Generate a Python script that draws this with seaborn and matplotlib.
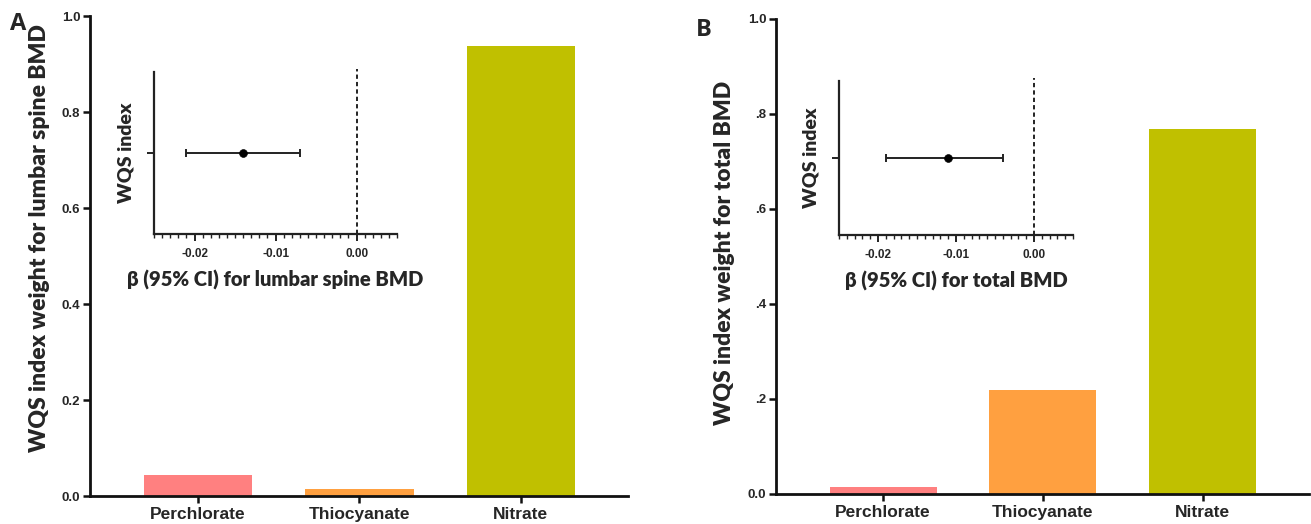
import matplotlib
matplotlib.use("Agg")
import matplotlib.pyplot as plt
import seaborn as sns
import pandas as pd
from matplotlib.ticker import MultipleLocator

# ---- data ----
categories = ["Perchlorate", "Thiocyanate", "Nitrate"]
weights_lumbar = [0.044, 0.015, 0.938]
weights_total = [0.015, 0.219, 0.768]
bar_colors = ["#FF8080", "#FFA040", "#C0C000"]

beta_lumbar = [-0.014]
ci_low_lumbar = [-0.021]
ci_high_lumbar = [-0.007]

beta_total = [-0.011]
ci_low_total = [-0.019]
ci_high_total = [-0.004]

yticks_main = [0.0, 0.2, 0.4, 0.6, 0.8, 1.0]
yticklabels_A = ["0.0", "0.2", "0.4", "0.6", "0.8", "1.0"]
yticklabels_B = ["0.0", ".2", ".4", ".6", ".8", "1.0"]
inset_xticks = [-0.02, -0.01, 0.00]
inset_xticklabels = ["-0.02", "-0.01", "0.00"]

sns.set_style("ticks")
TICKFONT = ["Liberation Sans", "DejaVu Sans"]
LABELFONT = ["Lato", "DejaVu Sans"]

fig = plt.figure(figsize=(13.11, 5.24), dpi=100)


def main_panel(rect, weights, ylabel, yticklabels, letter, letter_xy, ylabel_xy):
    ax = fig.add_axes(rect)
    df = pd.DataFrame({"cat": categories, "w": weights})
    sns.barplot(data=df, x="cat", y="w", hue="cat", palette=bar_colors,
                width=0.67, legend=False, ax=ax, saturation=1, linewidth=0)
    ax.set_xlim(-0.67, 2.665)
    ax.set_ylim(0, 1.0)
    ax.set_yticks(yticks_main)
    ax.set_yticklabels(yticklabels, family=TICKFONT, fontweight="bold", fontsize=9.5)
    ax.set_xticks(range(len(categories)))
    ax.set_xticklabels(categories, family=TICKFONT, fontweight="bold", fontsize=12.5)
    ax.set_xlabel("")
    ax.set_ylabel(ylabel, family=LABELFONT, fontweight="heavy", fontsize=16.5)
    ax.yaxis.set_label_coords(*ylabel_xy)
    for s in ["top", "right"]:
        ax.spines[s].set_visible(False)
    for s in ["left", "bottom"]:
        ax.spines[s].set_linewidth(2.0)
        ax.spines[s].set_color("#111111")
    ax.tick_params(axis="both", width=1.8, length=5, color="#111111", pad=2)
    ax.tick_params(axis="x", pad=3)
    fig.text(letter_xy[0], letter_xy[1], letter, family=["Open Sans", "DejaVu Sans"],
             fontweight="bold", fontsize=17, ha="center", va="center")
    return ax


def inset_panel(rect, beta, lo, hi, xlabel):
    ax = fig.add_axes(rect)
    ypos = [0]
    xerr = [[b - l for b, l in zip(beta, lo)], [h - b for b, h in zip(beta, hi)]]
    ax.errorbar(beta, ypos, xerr=xerr, fmt="none", ecolor="#222222",
                elinewidth=1.4, capsize=3, capthick=1.4)
    sns.scatterplot(x=beta, y=ypos, color="black", s=32, ax=ax, zorder=5,
                    edgecolor="black")
    ax.axvline(0, color="#222222", lw=1.4, ls=(0, (2.2, 1.6)), ymax=1.02, clip_on=False)
    ax.set_xlim(-0.025, 0.005)
    ax.set_ylim(-1, 1)
    ax.set_xticks(inset_xticks)
    ax.set_xticklabels(inset_xticklabels, family=TICKFONT, fontweight="bold", fontsize=8.5)
    ax.xaxis.set_minor_locator(MultipleLocator(0.001))
    ax.set_yticks([0])
    ax.set_yticklabels([""])
    ax.set_ylabel("WQS index", family=LABELFONT, fontweight="heavy", fontsize=14, labelpad=4)
    ax.set_xlabel(xlabel, family=LABELFONT, fontweight="heavy", fontsize=14.5, labelpad=7)
    for s in ["top", "right"]:
        ax.spines[s].set_visible(False)
    for s in ["left", "bottom"]:
        ax.spines[s].set_linewidth(1.6)
        ax.spines[s].set_color("#222222")
    ax.tick_params(axis="both", which="major", width=1.4, length=5, color="#222222", pad=5)
    ax.tick_params(axis="x", which="minor", width=1.0, length=3, color="#222222")
    ax.patch.set_alpha(0)
    return ax


axA = main_panel([0.0687, 0.0534, 0.4104, 0.916], weights_lumbar,
                 "WQS index weight for lumbar spine BMD", yticklabels_A,
                 "A", (0.014, 0.955), (-0.074, 0.537))
axB = main_panel([0.5919, 0.0573, 0.4066, 0.9065], weights_total,
                 "WQS index weight for total BMD", yticklabels_B,
                 "B", (0.537, 0.942), (-0.077, 0.507))

inset_panel([0.1175, 0.5534, 0.1854, 0.309], beta_lumbar, ci_low_lumbar, ci_high_lumbar,
            "\u03b2 (95% CI) for lumbar spine BMD")
inset_panel([0.640, 0.5515, 0.1785, 0.294], beta_total, ci_low_total, ci_high_total,
            "\u03b2 (95% CI) for total BMD")

fig.savefig("out.png", dpi=100)
